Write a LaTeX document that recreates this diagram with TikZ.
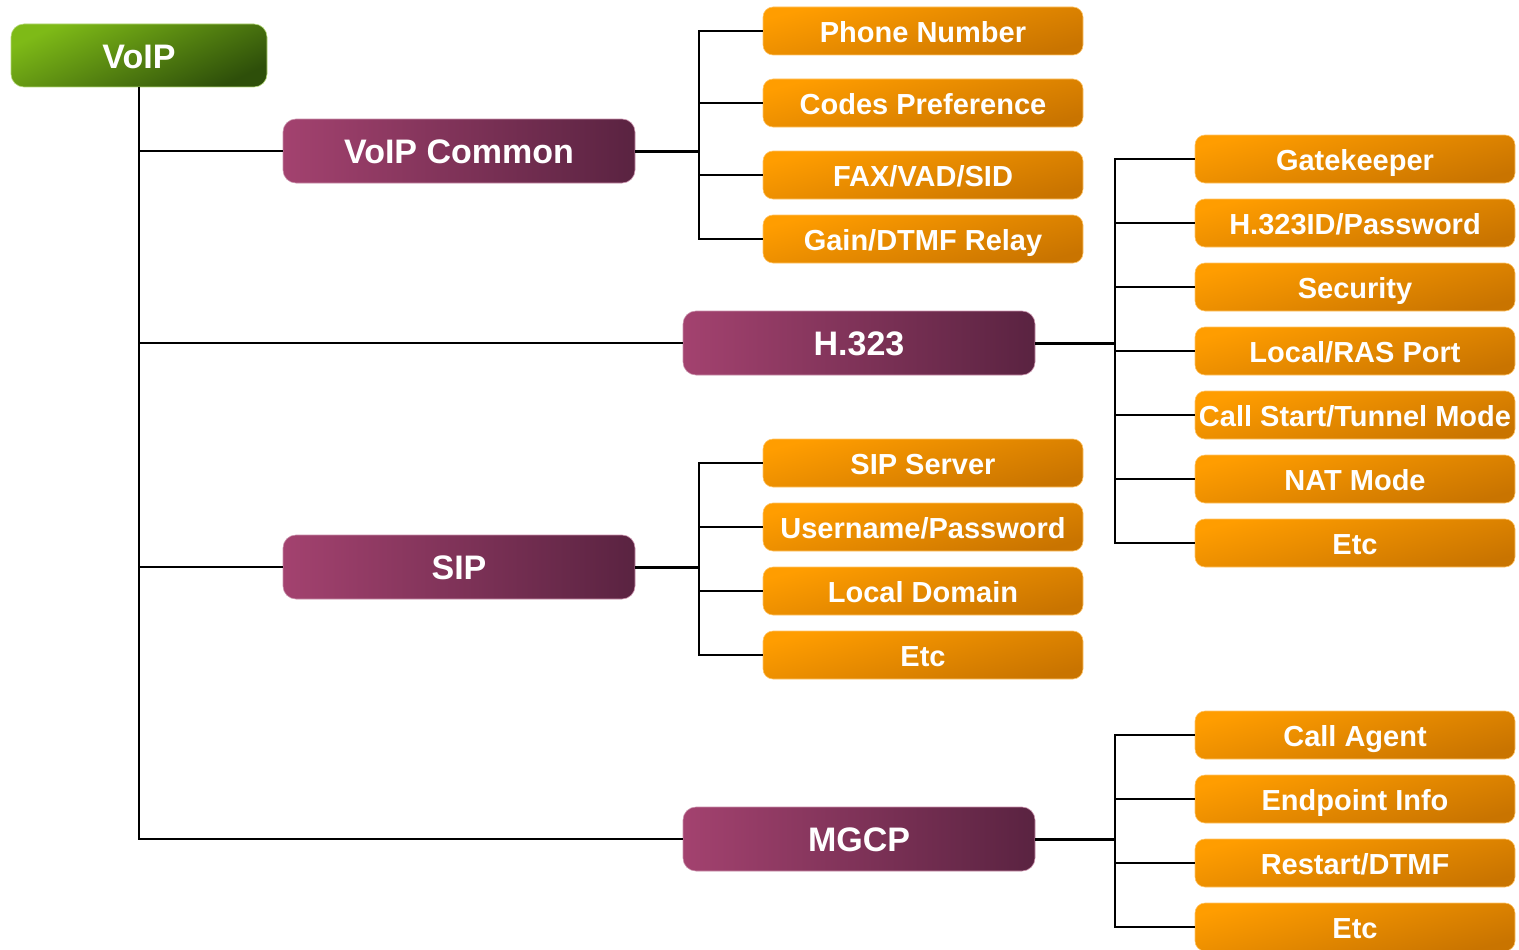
\documentclass[tikz,border=0pt]{standalone}
\usepackage{fontspec}
\setmainfont{Liberation Sans}
\definecolor{orA}{HTML}{FF9D00}
\definecolor{orB}{HTML}{C97400}
\definecolor{puA}{HTML}{A3426F}
\definecolor{puB}{HTML}{5A2341}
\definecolor{grA}{HTML}{7EBA17}
\definecolor{grB}{HTML}{2E4F0A}
\begin{document}
\begin{tikzpicture}[x=1pt,y=-1pt,
  leaf/.style={rounded corners=10pt, minimum width=320pt, minimum height=48pt, inner sep=0pt,
    top color=orA, bottom color=orB, shading angle=15, draw=orA!60!white, line width=0.6pt,
    text=white, font=\bfseries\fontsize{29}{29}\selectfont, text height=23.5pt, text depth=0pt},
  mid/.style={rounded corners=13pt, minimum width=352pt, minimum height=64pt, inner sep=0pt,
    left color=puA, right color=puB, draw=puA!60!white, line width=0.6pt,
    text=white, font=\bfseries\fontsize{34}{34}\selectfont, text height=24.5pt, text depth=0pt},
  root/.style={rounded corners=13pt, minimum width=256pt, minimum height=63pt, inner sep=0pt,
    top color=grA, bottom color=grB, shading angle=25, draw=grA!60!white, line width=0.6pt,
    text=white, font=\bfseries\fontsize{34}{34}\selectfont, text height=25.5pt, text depth=0pt},
  conn/.style={draw=black, line width=2pt},
  bus/.style={draw=black, line width=3pt}]
\useasboundingbox (0,0) rectangle (1519,950);
% nodes
\node[root] (voip) at (139,55.5) {VoIP};
\node[mid] (vc) at (459,151) {VoIP Common};
\node[mid] (h3) at (859,343) {H.323};
\node[mid] (sip) at (459,567) {SIP};
\node[mid] (mg) at (859,839) {MGCP};
% VoIP common leaves
\node[leaf] (pn) at (923,31) {Phone Number};
\node[leaf] (cp) at (923,103) {Codes Preference};
\node[leaf] (fx) at (923,175) {FAX/VAD/SID};
\node[leaf] (gd) at (923,239) {Gain/DTMF Relay};
% SIP leaves
\node[leaf] (ss) at (923,463) {SIP Server};
\node[leaf] (up) at (923,527) {Username/Password};
\node[leaf] (ld) at (923,591) {Local Domain};
\node[leaf] (se) at (923,655) {Etc};
% H.323 leaves
\node[leaf] (gk) at (1355,159) {Gatekeeper};
\node[leaf] (hid) at (1355,223) {H.323ID/Password};
\node[leaf] (sec) at (1355,287) {Security};
\node[leaf] (ras) at (1355,351) {Local/RAS Port};
\node[leaf] (cs) at (1355,415) {Call Start/Tunnel Mode};
\node[leaf] (nat) at (1355,479) {NAT Mode};
\node[leaf] (he) at (1355,543) {Etc};
% MGCP leaves
\node[leaf] (ca) at (1355,735) {Call Agent};
\node[leaf] (ep) at (1355,799) {Endpoint Info};
\node[leaf] (rd) at (1355,863) {Restart/DTMF};
\node[leaf] (me) at (1355,927) {Etc};
% bus coordinates
\coordinate (b1) at (699,151);
\coordinate (b2) at (1115,343);
\coordinate (b3) at (699,567);
\coordinate (b4) at (1115,839);
% root trunk
\draw[conn] (voip.south) |- (mg.west);
\draw[conn] (voip.south |- vc.west) -- (vc.west);
\draw[conn] (voip.south |- h3.west) -- (h3.west);
\draw[conn] (voip.south |- sip.west) -- (sip.west);
% VoIP common
\draw[bus] (vc.east) -- (b1);
\draw[conn] (pn.west) -- (pn.west -| b1) -- (gd.west -| b1) -- (gd.west);
\draw[conn] (cp.west -| b1) -- (cp.west);
\draw[conn] (fx.west -| b1) -- (fx.west);
% SIP
\draw[bus] (sip.east) -- (b3);
\draw[conn] (ss.west) -- (ss.west -| b3) -- (se.west -| b3) -- (se.west);
\draw[conn] (up.west -| b3) -- (up.west);
\draw[conn] (ld.west -| b3) -- (ld.west);
% H.323
\draw[bus] (h3.east) -- (b2);
\draw[conn] (gk.west) -- (gk.west -| b2) -- (he.west -| b2) -- (he.west);
\draw[conn] (hid.west -| b2) -- (hid.west);
\draw[conn] (sec.west -| b2) -- (sec.west);
\draw[conn] (ras.west -| b2) -- (ras.west);
\draw[conn] (cs.west -| b2) -- (cs.west);
\draw[conn] (nat.west -| b2) -- (nat.west);
% MGCP
\draw[bus] (mg.east) -- (b4);
\draw[conn] (ca.west) -- (ca.west -| b4) -- (me.west -| b4) -- (me.west);
\draw[conn] (ep.west -| b4) -- (ep.west);
\draw[conn] (rd.west -| b4) -- (rd.west);
\end{tikzpicture}
\end{document}
